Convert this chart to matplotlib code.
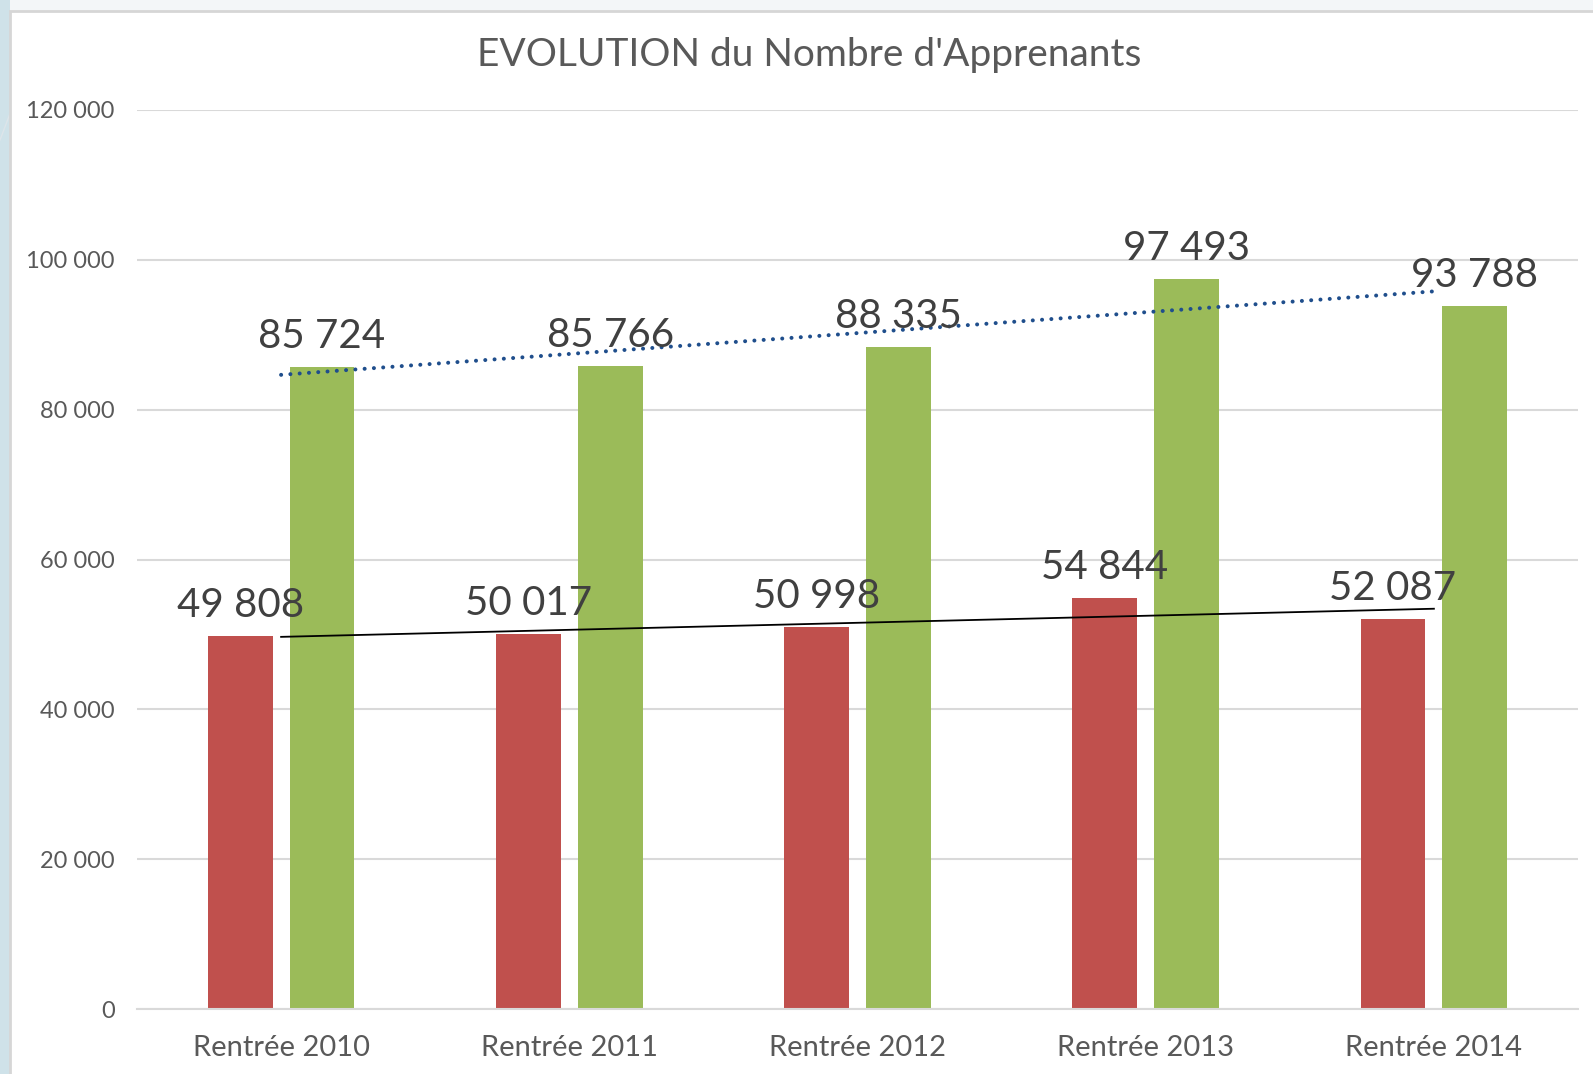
import numpy as np
from matplotlib import pyplot as plt
from matplotlib.patches import Rectangle
from matplotlib.ticker import FuncFormatter

categories = ['Rentrée 2010', 'Rentrée 2011', 'Rentrée 2012', 'Rentrée 2013', 'Rentrée 2014']
red_values = [49808, 50017, 50998, 54844, 52087]
green_values = [85724, 85766, 88335, 97493, 93788]

red_color = '#c0504d'
green_color = '#9bbb59'
text_color = '#404040'
tick_color = '#595959'
grid_color = '#d9d9d9'

plt.rcParams['font.family'] = ['Lato', 'DejaVu Sans']


def fmt_thousands(v):
    return '{:,}'.format(int(round(v))).replace(',', ' ')


fig = plt.figure(figsize=(15.93, 10.74), dpi=100)
fig.patch.set_facecolor('#f3f6f8')

# decorative background: left strip and white chart box
fig.patches.append(Rectangle((0, 0), 10 / 1593, 1, transform=fig.transFigure,
                             facecolor='#cfe2e9', edgecolor='none', zorder=0))
fig.patches.append(Rectangle((10 / 1593, -0.01), 1.0, 1 - 11 / 1074 + 0.01, transform=fig.transFigure,
                             facecolor='white', edgecolor='#d6d6d6', linewidth=2, zorder=1))
fig.lines.append(plt.Line2D([0, 38 / 1593], [1 - 140 / 1074, 1 - 40 / 1074], transform=fig.transFigure,
                            color='#dde5ea', linewidth=1, zorder=0.5))

ax = fig.add_axes([137 / 1593, 1 - 1009 / 1074, (1578 - 137) / 1593, (1009 - 110) / 1074])
ax.set_facecolor('none')
ax.set_zorder(5)

x = np.arange(len(categories))
w = 0.225
off = 0.142
ax.bar(x - off, red_values, w, color=red_color, zorder=2)
ax.bar(x + off, green_values, w, color=green_color, zorder=2)

# linear trend lines
pr = np.polyfit(x, red_values, 1)
pg = np.polyfit(x, green_values, 1)
ax.plot(x, np.polyval(pr, x), color='black', linewidth=1.3, zorder=3)
ax.plot(x, np.polyval(pg, x), color='#1f4e8c', linewidth=2.9, linestyle=(0, (0.01, 2.3)),
        dash_capstyle='round', zorder=3)

for xi, v in zip(x - off, red_values):
    ax.annotate(fmt_thousands(v), (xi, v), xytext=(0, 19), textcoords='offset pixels',
                ha='center', va='baseline', fontsize=29, color=text_color, zorder=4)
for xi, v in zip(x + off, green_values):
    ax.annotate(fmt_thousands(v), (xi, v), xytext=(0, 19), textcoords='offset pixels',
                ha='center', va='baseline', fontsize=29, color=text_color, zorder=4)

ax.set_xlim(-0.5, len(categories) - 0.5)
ax.set_ylim(0, 120000)
ax.set_yticks(np.arange(0, 120001, 20000))
ax.yaxis.set_major_formatter(FuncFormatter(lambda v, p: fmt_thousands(v)))
ax.set_xticks(x)
ax.set_xticklabels(categories)
ax.grid(axis='y', color=grid_color, linewidth=1.5, zorder=0)
ax.set_axisbelow(True)
for s in ['top', 'right', 'left']:
    ax.spines[s].set_visible(False)
ax.spines['bottom'].set_color(grid_color)
ax.spines['bottom'].set_linewidth(1.5)
ax.tick_params(axis='y', length=0, pad=16, labelsize=17, labelcolor=tick_color)
ax.tick_params(axis='x', length=0, pad=19, labelsize=21, labelcolor=tick_color)

fig.text(0.508, 1 - 55 / 1074, "EVOLUTION du Nombre d'Apprenants", ha='center', va='center',
         fontsize=28, color=tick_color, zorder=6)

fig.savefig('out.png', dpi=100, facecolor=fig.get_facecolor())
